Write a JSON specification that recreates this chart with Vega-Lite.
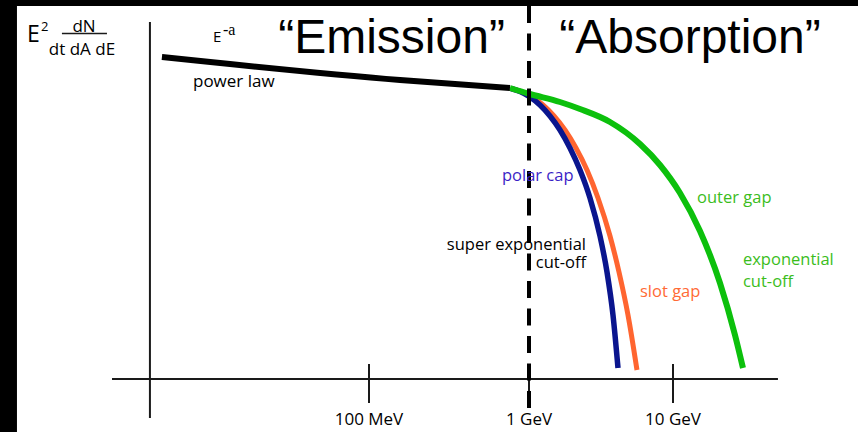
{
  "$schema": "https://vega.github.io/schema/vega-lite/v6.json",
  "width": 858,
  "height": 432,
  "autosize": {"type": "fit", "contains": "padding"},
  "padding": 0,
  "background": "white",
  "config": {"view": {"stroke": null}},
  "datasets": {
    "frame": [
      {"L": -3.306, "L2": -3.2, "Y": -0.53, "Y2": 3.79},
      {"L": -3.306, "L2": 2.285, "Y": 3.73, "Y2": 3.79}
    ],
    "axes": [
      {"part": "energy axis", "L": -2.606, "L2": 1.729, "Y": 0, "Y2": 0},
      {"part": "flux axis", "L": -2.369, "L2": -2.369, "Y": -0.39, "Y2": 3.57},
      {"part": "tick 100 MeV", "L": -1, "L2": -1, "Y": -0.24, "Y2": 0.15},
      {"part": "tick 1 GeV", "L": 0, "L2": 0, "Y": -0.24, "Y2": 0.15},
      {"part": "tick 10 GeV", "L": 1, "L2": 1, "Y": -0.24, "Y2": 0.15}
    ],
    "fractionBar": [
      {"L": -2.919, "L2": -2.6375, "Y": 3.455, "Y2": 3.455}
    ],
    "divider": [
      {"L": 0, "L2": 0, "Y": 3.73, "Y2": -0.31}
    ],
    "curves": [
      {"series": "power law", "i": 0, "L": -2.294, "Y": 3.22},
      {"series": "power law", "i": 1, "L": -0.806, "Y": 2.99},
      {"series": "power law", "i": 2, "L": -0.119, "Y": 2.91},

      {"series": "outer gap", "i": 0, "L": -0.119, "Y": 2.91},
      {"series": "outer gap", "i": 1, "L": 0.0069, "Y": 2.85},
      {"series": "outer gap", "i": 2, "L": 0.2153, "Y": 2.77},
      {"series": "outer gap", "i": 3, "L": 0.3542, "Y": 2.7},
      {"series": "outer gap", "i": 4, "L": 0.5625, "Y": 2.57},
      {"series": "outer gap", "i": 5, "L": 0.7708, "Y": 2.35},
      {"series": "outer gap", "i": 6, "L": 0.9097, "Y": 2.14},
      {"series": "outer gap", "i": 7, "L": 1.0486, "Y": 1.86},
      {"series": "outer gap", "i": 8, "L": 1.1875, "Y": 1.48},
      {"series": "outer gap", "i": 9, "L": 1.3264, "Y": 0.96},
      {"series": "outer gap", "i": 10, "L": 1.4306, "Y": 0.44},
      {"series": "outer gap", "i": 11, "L": 1.4861, "Y": 0.11},

      {"series": "polar cap", "i": 0, "L": -0.1125, "Y": 2.905},
      {"series": "polar cap", "i": 1, "L": -0.05625, "Y": 2.875},
      {"series": "polar cap", "i": 2, "L": 0.0069, "Y": 2.82},
      {"series": "polar cap", "i": 3, "L": 0.0764, "Y": 2.74},
      {"series": "polar cap", "i": 4, "L": 0.1458, "Y": 2.63},
      {"series": "polar cap", "i": 5, "L": 0.2153, "Y": 2.49},
      {"series": "polar cap", "i": 6, "L": 0.2847, "Y": 2.31},
      {"series": "polar cap", "i": 7, "L": 0.3542, "Y": 2.09},
      {"series": "polar cap", "i": 8, "L": 0.4236, "Y": 1.81},
      {"series": "polar cap", "i": 9, "L": 0.4931, "Y": 1.43},
      {"series": "polar cap", "i": 10, "L": 0.5417, "Y": 1.07},
      {"series": "polar cap", "i": 11, "L": 0.5833, "Y": 0.64},
      {"series": "polar cap", "i": 12, "L": 0.6181, "Y": 0.11},

      {"series": "slot gap", "i": 0, "L": -0.1125, "Y": 2.905},
      {"series": "slot gap", "i": 1, "L": -0.05, "Y": 2.875},
      {"series": "slot gap", "i": 2, "L": 0.0208, "Y": 2.82},
      {"series": "slot gap", "i": 3, "L": 0.0972, "Y": 2.74},
      {"series": "slot gap", "i": 4, "L": 0.1736, "Y": 2.63},
      {"series": "slot gap", "i": 5, "L": 0.25, "Y": 2.49},
      {"series": "slot gap", "i": 6, "L": 0.3264, "Y": 2.31},
      {"series": "slot gap", "i": 7, "L": 0.4028, "Y": 2.09},
      {"series": "slot gap", "i": 8, "L": 0.4792, "Y": 1.81},
      {"series": "slot gap", "i": 9, "L": 0.5625, "Y": 1.43},
      {"series": "slot gap", "i": 10, "L": 0.625, "Y": 1.07},
      {"series": "slot gap", "i": 11, "L": 0.6875, "Y": 0.64},
      {"series": "slot gap", "i": 12, "L": 0.75, "Y": 0.09}
    ],
    "labels": [
      {"group": "heading", "text": "“Emission”", "L": -0.859, "Y": 3.26},
      {"group": "heading", "text": "“Absorption”", "L": 1.118, "Y": 3.26},
      {"group": "energy", "text": "100 MeV", "L": -1, "Y": -0.46},
      {"group": "energy", "text": "1 GeV", "L": 0, "Y": -0.46},
      {"group": "energy", "text": "10 GeV", "L": 1, "Y": -0.46},
      {"group": "quantity E", "text": "E", "L": -3.1375, "Y": 3.37},
      {"group": "quantity exp", "text": "2", "L": -3.05, "Y": 3.48},
      {"group": "quantity frac", "text": "dN", "L": -2.781, "Y": 3.47},
      {"group": "quantity frac", "text": "dt dA dE", "L": -2.794, "Y": 3.24},
      {"group": "index E", "text": "E", "L": -1.975, "Y": 3.37},
      {"group": "index exp", "text": "-a", "L": -1.913, "Y": 3.44},
      {"group": "note left", "text": "power law", "L": -2.1, "Y": 2.92},
      {"group": "note right", "text": "super exponential", "L": 0.396, "Y": 1.29},
      {"group": "note right", "text": "cut-off", "L": 0.396, "Y": 1.11},
      {"group": "polar cap", "text": "polar cap", "L": -0.169, "Y": 1.98},
      {"group": "slot gap", "text": "slot gap", "L": 0.771, "Y": 0.82},
      {"group": "outer gap", "text": "outer gap", "L": 1.167, "Y": 1.76},
      {"group": "outer gap", "text": "exponential", "L": 1.486, "Y": 1.14},
      {"group": "outer gap", "text": "cut-off", "L": 1.486, "Y": 0.92}
    ]
  },
  "encoding": {
    "x": {
      "field": "L",
      "type": "quantitative",
      "axis": null,
      "scale": {"domain": [-3.306, 0, 2.285], "range": [0, 529, 858], "nice": false, "zero": false}
    },
    "y": {
      "field": "Y",
      "type": "quantitative",
      "axis": null,
      "scale": {"domain": [-0.53, 3.79], "range": [432, 0], "nice": false, "zero": false}
    }
  },
  "layer": [
    {
      "data": {"name": "frame"},
      "mark": {"type": "rect", "color": "black"},
      "encoding": {"x2": {"field": "L2"}, "y2": {"field": "Y2"}}
    },
    {
      "data": {"name": "axes"},
      "mark": {"type": "rule", "color": "#1a1a1a", "strokeWidth": 2},
      "encoding": {"x2": {"field": "L2"}, "y2": {"field": "Y2"}}
    },
    {
      "data": {"name": "fractionBar"},
      "mark": {"type": "rule", "color": "#1a1a1a", "strokeWidth": 1.5},
      "encoding": {"x2": {"field": "L2"}, "y2": {"field": "Y2"}}
    },
    {
      "data": {"name": "curves"},
      "transform": [{"filter": "datum.series === 'slot gap'"}],
      "mark": {"type": "line", "color": "#ff6530", "strokeWidth": 5, "interpolate": "monotone", "strokeCap": "butt"},
      "encoding": {"order": {"field": "i"}}
    },
    {
      "data": {"name": "curves"},
      "transform": [{"filter": "datum.series === 'polar cap'"}],
      "mark": {"type": "line", "color": "#0a158e", "strokeWidth": 5.5, "interpolate": "monotone", "strokeCap": "butt"},
      "encoding": {"order": {"field": "i"}}
    },
    {
      "data": {"name": "curves"},
      "transform": [{"filter": "datum.series === 'outer gap'"}],
      "mark": {"type": "line", "color": "#0cc00c", "strokeWidth": 6, "interpolate": "monotone", "strokeCap": "butt"},
      "encoding": {"order": {"field": "i"}}
    },
    {
      "data": {"name": "curves"},
      "transform": [{"filter": "datum.series === 'power law'"}],
      "mark": {"type": "line", "color": "black", "strokeWidth": 6, "interpolate": "monotone", "strokeCap": "butt"},
      "encoding": {"order": {"field": "i"}}
    },
    {
      "data": {"name": "divider"},
      "mark": {"type": "rule", "color": "black", "strokeWidth": 4, "strokeDash": [17, 10.5]},
      "encoding": {"x2": {"field": "L2"}, "y2": {"field": "Y2"}}
    },
    {
      "data": {"name": "labels"},
      "transform": [{"filter": "datum.group === 'heading'"}],
      "mark": {"type": "text", "font": "Liberation Sans", "fontSize": 48, "align": "center", "baseline": "alphabetic", "color": "black"},
      "encoding": {"text": {"field": "text"}}
    },
    {
      "data": {"name": "labels"},
      "transform": [{"filter": "datum.group === 'energy'"}],
      "mark": {"type": "text", "font": "Open Sans", "fontSize": 17, "align": "center", "baseline": "alphabetic", "color": "black"},
      "encoding": {"text": {"field": "text"}}
    },
    {
      "data": {"name": "labels"},
      "transform": [{"filter": "datum.group === 'quantity E'"}],
      "mark": {"type": "text", "font": "Open Sans", "fontSize": 23, "align": "left", "baseline": "alphabetic", "color": "black"},
      "encoding": {"text": {"field": "text"}}
    },
    {
      "data": {"name": "labels"},
      "transform": [{"filter": "datum.group === 'quantity exp'"}],
      "mark": {"type": "text", "font": "Open Sans", "fontSize": 13, "align": "left", "baseline": "alphabetic", "color": "black"},
      "encoding": {"text": {"field": "text"}}
    },
    {
      "data": {"name": "labels"},
      "transform": [{"filter": "datum.group === 'quantity frac'"}],
      "mark": {"type": "text", "font": "Open Sans", "fontSize": 17, "align": "center", "baseline": "alphabetic", "color": "black"},
      "encoding": {"text": {"field": "text"}}
    },
    {
      "data": {"name": "labels"},
      "transform": [{"filter": "datum.group === 'index E'"}],
      "mark": {"type": "text", "font": "Open Sans", "fontSize": 15, "align": "left", "baseline": "alphabetic", "color": "black"},
      "encoding": {"text": {"field": "text"}}
    },
    {
      "data": {"name": "labels"},
      "transform": [{"filter": "datum.group === 'index exp'"}],
      "mark": {"type": "text", "font": "Liberation Serif", "fontSize": 16, "align": "left", "baseline": "alphabetic", "color": "black"},
      "encoding": {"text": {"field": "text"}}
    },
    {
      "data": {"name": "labels"},
      "transform": [{"filter": "datum.group === 'note left'"}],
      "mark": {"type": "text", "font": "Open Sans", "fontSize": 17, "align": "left", "baseline": "alphabetic", "color": "black"},
      "encoding": {"text": {"field": "text"}}
    },
    {
      "data": {"name": "labels"},
      "transform": [{"filter": "datum.group === 'note right'"}],
      "mark": {"type": "text", "font": "Open Sans", "fontSize": 16.5, "align": "right", "baseline": "alphabetic", "color": "black"},
      "encoding": {"text": {"field": "text"}}
    },
    {
      "data": {"name": "labels"},
      "transform": [{"filter": "datum.group === 'polar cap'"}],
      "mark": {"type": "text", "font": "Open Sans", "fontSize": 16.5, "align": "left", "baseline": "alphabetic", "color": "#3b1fc6"},
      "encoding": {"text": {"field": "text"}}
    },
    {
      "data": {"name": "labels"},
      "transform": [{"filter": "datum.group === 'slot gap'"}],
      "mark": {"type": "text", "font": "Open Sans", "fontSize": 16.5, "align": "left", "baseline": "alphabetic", "color": "#ff6a35"},
      "encoding": {"text": {"field": "text"}}
    },
    {
      "data": {"name": "labels"},
      "transform": [{"filter": "datum.group === 'outer gap'"}],
      "mark": {"type": "text", "font": "Open Sans", "fontSize": 16.5, "align": "left", "baseline": "alphabetic", "color": "#3bbd1c"},
      "encoding": {"text": {"field": "text"}}
    }
  ]
}
